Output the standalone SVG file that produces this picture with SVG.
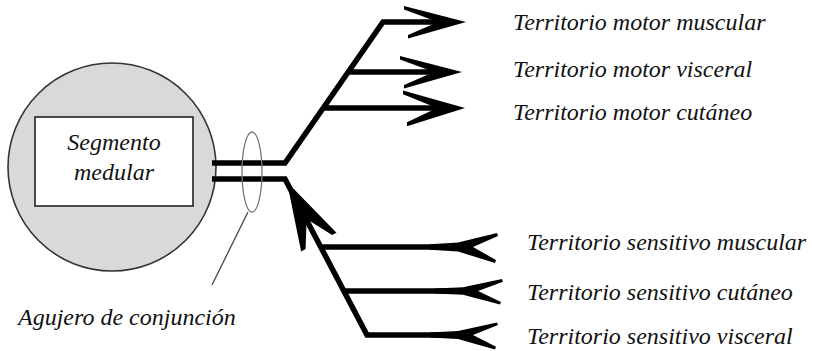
<svg xmlns="http://www.w3.org/2000/svg" width="813" height="351" viewBox="0 0 813 351">
<style>
  .lbl { font-family: "Liberation Serif", "Times New Roman", serif; font-style: italic; font-size: 24px; fill: #111; }
  .nerve { fill: none; stroke: #000; stroke-width: 5.5; stroke-linejoin: miter; stroke-linecap: butt; }
  .head { fill: #000; stroke: none; }
</style>
<defs>
  <path id="motorHead" d="M0,0 L-62,-16 L-62,-12.5 L-28,0 L-58,13 L-58,16.5 Z"/>
  <path id="tail" d="M-40,-2.8 L-12,-4.5 L27,-14 L28,-11 L3,0 L26,13 L25,16 L-12,4.5 L-40,2.8 Z"/>
</defs>
<rect width="813" height="351" fill="#fff"/>
<g id="segmento-medular">
  <circle cx="112" cy="167" r="104" fill="#d9d9d9" stroke="#333" stroke-width="1.6"/>
  <rect x="35" y="117" width="158" height="89" fill="#fff" stroke="#222" stroke-width="1.6"/>
  <text class="lbl" x="114" y="150" text-anchor="middle">Segmento</text>
  <text class="lbl" x="114" y="180" text-anchor="middle">medular</text>
</g>
<g id="connectors">
  <polyline class="nerve" points="212,163 285,163 383,22 445,22"/>
  <line class="nerve" x1="350" y1="72" x2="440" y2="72"/>
  <line class="nerve" x1="324" y1="108" x2="440" y2="108"/>
  <polyline class="nerve" points="212,179 285,179 367,335 450,335"/>
  <line class="nerve" x1="320" y1="247" x2="440" y2="247"/>
  <line class="nerve" x1="343" y1="291" x2="450" y2="291"/>
  <use href="#motorHead" class="head" transform="translate(466,22)"/>
  <use href="#motorHead" class="head" transform="translate(462,72)"/>
  <use href="#motorHead" class="head" transform="translate(465,108) scale(1,1.1)"/>
  <path class="head" d="M0,0 L-68,-20 L-68,-15 L-42,0 L-68,15 L-68,20 Z" transform="translate(287,182) rotate(-117.9)"/>
  <use href="#tail" class="head" transform="translate(470,247)"/>
  <use href="#tail" class="head" transform="translate(475,291) scale(1,0.85)"/>
  <use href="#tail" class="head" transform="translate(470,335) scale(1,0.9)"/>
</g>
<g id="agujero-de-conjuncion">
  <ellipse cx="252" cy="172" rx="10" ry="40" fill="none" stroke="#777" stroke-width="1.3"/>
  <line x1="248" y1="212" x2="212" y2="285" stroke="#444" stroke-width="1.3"/>
  <text class="lbl" x="18" y="325">Agujero de conjunción</text>
</g>
<g id="territorios">
  <text class="lbl" x="513" y="30">Territorio motor muscular</text>
  <text class="lbl" x="513" y="77">Territorio motor visceral</text>
  <text class="lbl" x="513" y="120">Territorio motor cutáneo</text>
  <text class="lbl" x="527" y="250">Territorio sensitivo muscular</text>
  <text class="lbl" x="527" y="300">Territorio sensitivo cutáneo</text>
  <text class="lbl" x="527" y="344">Territorio sensitivo visceral</text>
</g>
</svg>
